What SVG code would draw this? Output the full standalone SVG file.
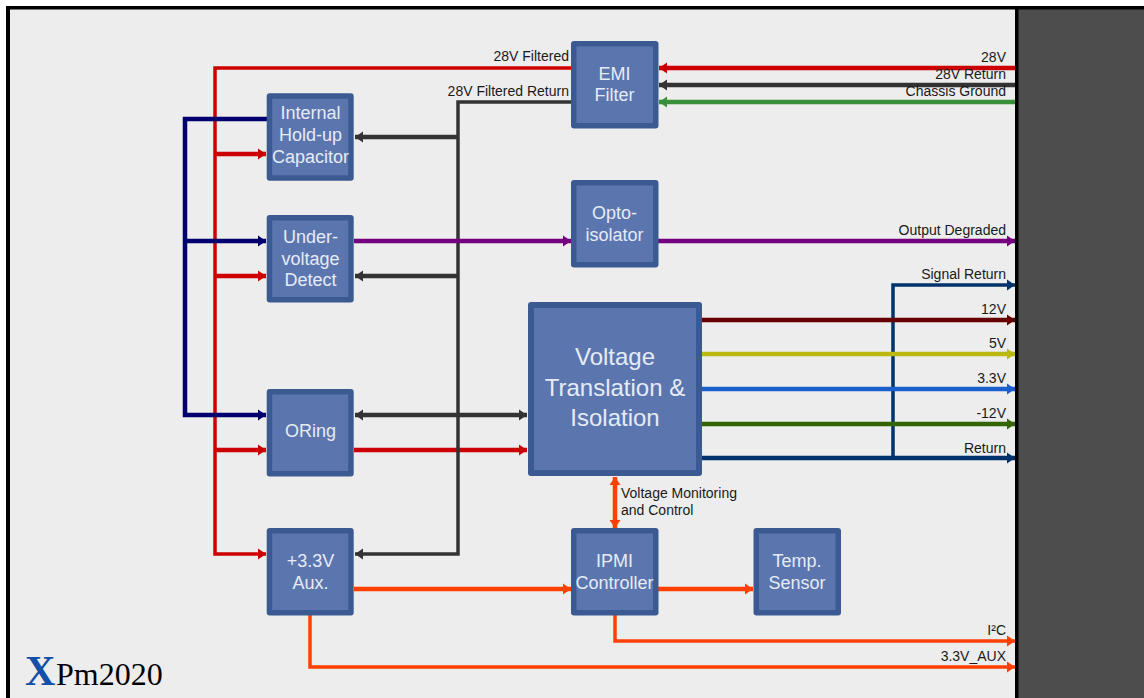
<svg xmlns="http://www.w3.org/2000/svg" width="1144" height="698" viewBox="0 0 1144 698">
<style>
.n rect.o{fill:#3c5a92;stroke:none}
.n rect.i{fill:#5b76af;stroke:none}
.n text{font-family:"Liberation Sans",Arial,sans-serif;font-size:18px;fill:#e6ebf5;text-anchor:middle}
.l{font-family:"Liberation Sans",Arial,sans-serif;font-size:14px;fill:#1a1a1a;text-anchor:end}
.c path{fill:none;stroke-linejoin:miter}
.red{stroke:#cc0000}.blk{stroke:#333333}.grn{stroke:#3a8f3a}.nav{stroke:#000070}.pur{stroke:#740080}.org{stroke:#ff4000}.dbl{stroke:#00336b}
.mar{stroke:#660000}.yel{stroke:#bcb812}.blu{stroke:#1a5fcc}.olv{stroke:#336600}
.t3{stroke-width:3.500px}.t4{stroke-width:4.500px}
</style>
<defs>
<marker id="ared" markerUnits="userSpaceOnUse" markerWidth="10" markerHeight="12" refX="8" refY="6" orient="auto-start-reverse"><path d="M0 0.500L8 6L0 11.500Z" fill="#cc0000"/></marker>
<marker id="ablk" markerUnits="userSpaceOnUse" markerWidth="10" markerHeight="12" refX="8" refY="6" orient="auto-start-reverse"><path d="M0 0.500L8 6L0 11.500Z" fill="#333333"/></marker>
<marker id="agrn" markerUnits="userSpaceOnUse" markerWidth="10" markerHeight="12" refX="8" refY="6" orient="auto-start-reverse"><path d="M0 0.500L8 6L0 11.500Z" fill="#3a8f3a"/></marker>
<marker id="anav" markerUnits="userSpaceOnUse" markerWidth="10" markerHeight="12" refX="8" refY="6" orient="auto-start-reverse"><path d="M0 0.500L8 6L0 11.500Z" fill="#000070"/></marker>
<marker id="apur" markerUnits="userSpaceOnUse" markerWidth="10" markerHeight="12" refX="8" refY="6" orient="auto-start-reverse"><path d="M0 0.500L8 6L0 11.500Z" fill="#740080"/></marker>
<marker id="aorg" markerUnits="userSpaceOnUse" markerWidth="10" markerHeight="12" refX="8" refY="6" orient="auto-start-reverse"><path d="M0 0.500L8 6L0 11.500Z" fill="#ff4000"/></marker>
<marker id="adbl" markerUnits="userSpaceOnUse" markerWidth="10" markerHeight="12" refX="8" refY="6" orient="auto-start-reverse"><path d="M0 0.500L8 6L0 11.500Z" fill="#00336b"/></marker>
<marker id="amar" markerUnits="userSpaceOnUse" markerWidth="10" markerHeight="12" refX="8" refY="6" orient="auto-start-reverse"><path d="M0 0.500L8 6L0 11.500Z" fill="#660000"/></marker>
<marker id="ayel" markerUnits="userSpaceOnUse" markerWidth="10" markerHeight="12" refX="8" refY="6" orient="auto-start-reverse"><path d="M0 0.500L8 6L0 11.500Z" fill="#bcb812"/></marker>
<marker id="ablu" markerUnits="userSpaceOnUse" markerWidth="10" markerHeight="12" refX="8" refY="6" orient="auto-start-reverse"><path d="M0 0.500L8 6L0 11.500Z" fill="#1a5fcc"/></marker>
<marker id="aolv" markerUnits="userSpaceOnUse" markerWidth="10" markerHeight="12" refX="8" refY="6" orient="auto-start-reverse"><path d="M0 0.500L8 6L0 11.500Z" fill="#336600"/></marker>
</defs>
<rect width="1144" height="698" fill="#ffffff"/>
<rect x="8" y="8" width="1008" height="690" fill="#ededed"/>
<rect x="1016" y="8" width="128" height="690" fill="#4d4d4d"/>
<rect x="6" y="6" width="1138" height="3.500" fill="#000000"/>
<rect x="6" y="6" width="4" height="692" fill="#000000"/>
<rect x="1015" y="6" width="3.500" height="692" fill="#000000"/>

<g id="connectors" class="c">
<path class="red t3" d="M572 68H215V554H266" marker-end="url(#ared)"/>
<path class="red t4" d="M215 154H266" marker-end="url(#ared)"/>
<path class="red t4" d="M215 276H266" marker-end="url(#ared)"/>
<path class="red t4" d="M215 450H266" marker-end="url(#ared)"/>
<path class="red t4" d="M354 450H527" marker-end="url(#ared)"/>
<path class="nav t4" d="M267 119H185V415H266" marker-end="url(#anav)"/>
<path class="nav t4" d="M185 241H266" marker-end="url(#anav)"/>
<path class="blk t3" d="M572 102H458V554H355" marker-end="url(#ablk)"/>
<path class="blk t4" d="M458 137H355" marker-end="url(#ablk)"/>
<path class="blk t4" d="M458 276H355" marker-end="url(#ablk)"/>
<path class="blk t4" d="M355 415H527" marker-start="url(#ablk)" marker-end="url(#ablk)"/>
<path class="red t4" d="M1015 68H659" marker-end="url(#ared)"/>
<path class="blk t4" d="M1015 85H659" marker-end="url(#ablk)"/>
<path class="grn t4" d="M1015 102H659" marker-end="url(#agrn)"/>
<path class="pur t4" d="M354 241H571" marker-end="url(#apur)"/>
<path class="pur t4" d="M658 241H1015" marker-end="url(#apur)"/>
<path class="dbl t3" d="M893 459V285H1015" marker-end="url(#adbl)"/>
<path class="mar t4" d="M701 320H1015" marker-end="url(#amar)"/>
<path class="yel t4" d="M701 354H1015" marker-end="url(#ayel)"/>
<path class="blu t4" d="M701 389H1015" marker-end="url(#ablu)"/>
<path class="olv t4" d="M701 424H1015" marker-end="url(#aolv)"/>
<path class="dbl t4" d="M701 458H1015" marker-end="url(#adbl)"/>
<path class="org t4" d="M615 477V528" marker-start="url(#aorg)" marker-end="url(#aorg)"/>
<path class="org t4" d="M354 589H571" marker-end="url(#aorg)"/>
<path class="org t4" d="M658 589H753" marker-end="url(#aorg)"/>
<path class="org t3" d="M615 615V641H1015" marker-end="url(#aorg)"/>
<path class="org t3" d="M310 615V667H1015" marker-end="url(#aorg)"/>
</g>

<g id="emi" class="n"><rect class="o" x="571" y="41" width="87.500" height="87.500" rx="3"/><rect class="i" x="576.500" y="46.500" width="76.500" height="76.500"/><text x="614.500" y="80">EMI</text><text x="614.500" y="101">Filter</text></g>
<g id="holdup" class="n"><rect class="o" x="266.700" y="93.300" width="87" height="87.500" rx="3"/><rect class="i" x="272.200" y="98.800" width="76" height="76.500"/><text x="310.500" y="119">Internal</text><text x="310.500" y="141">Hold-up</text><text x="310.500" y="163">Capacitor</text></g>
<g id="opto" class="n"><rect class="o" x="571" y="180" width="87.500" height="87.500" rx="3"/><rect class="i" x="576.500" y="185.500" width="76.500" height="76.500"/><text x="614.500" y="219">Opto-</text><text x="614.500" y="241">isolator</text></g>
<g id="uvd" class="n"><rect class="o" x="266.700" y="215" width="87" height="87.500" rx="3"/><rect class="i" x="272.200" y="220.500" width="76" height="76.500"/><text x="310.500" y="243">Under-</text><text x="310.500" y="265">voltage</text><text x="310.500" y="286">Detect</text></g>
<g id="vti" class="n"><rect class="o" x="528" y="302" width="174" height="174" rx="3"/><rect class="i" x="534" y="308" width="162" height="162"/><text x="615" y="365" style="font-size:24px">Voltage</text><text x="615" y="396" style="font-size:24px">Translation &amp;</text><text x="615" y="426" style="font-size:24px">Isolation</text></g>
<g id="oring" class="n"><rect class="o" x="266.700" y="389" width="87" height="87.500" rx="3"/><rect class="i" x="272.200" y="394.500" width="76" height="76.500"/><text x="310.500" y="437">ORing</text></g>
<g id="aux" class="n"><rect class="o" x="266.700" y="528" width="87" height="87.500" rx="3"/><rect class="i" x="272.200" y="533.500" width="76" height="76.500"/><text x="310.500" y="567">+3.3V</text><text x="310.500" y="589">Aux.</text></g>
<g id="ipmi" class="n"><rect class="o" x="571" y="528" width="87.500" height="87.500" rx="3"/><rect class="i" x="576.500" y="533.500" width="76.500" height="76.500"/><text x="614.500" y="567">IPMI</text><text x="614.500" y="589">Controller</text></g>
<g id="temp" class="n"><rect class="o" x="753.500" y="528" width="87.500" height="87.500" rx="3"/><rect class="i" x="759" y="533.500" width="76.500" height="76.500"/><text x="797" y="567">Temp.</text><text x="797" y="589">Sensor</text></g>

<g id="labels">
<text class="l" x="569" y="61">28V Filtered</text>
<text class="l" x="569" y="96">28V Filtered Return</text>
<text class="l" x="1006" y="62">28V</text>
<text class="l" x="1006" y="79">28V Return</text>
<text class="l" x="1006" y="96">Chassis Ground</text>
<text class="l" x="1006" y="235">Output Degraded</text>
<text class="l" x="1006" y="279">Signal Return</text>
<text class="l" x="1006" y="314">12V</text>
<text class="l" x="1006" y="348">5V</text>
<text class="l" x="1006" y="383">3.3V</text>
<text class="l" x="1006" y="418">-12V</text>
<text class="l" x="1006" y="453">Return</text>
<text class="l" x="1006" y="635">I²C</text>
<text class="l" x="1006" y="661">3.3V_AUX</text>
<text class="l" x="621" y="498" style="text-anchor:start">Voltage Monitoring</text>
<text class="l" x="621" y="515" style="text-anchor:start">and Control</text>
<text x="25" y="685" style="font-family:'Liberation Serif','Times New Roman',serif;font-weight:bold;font-size:42px;fill:#1450a8">X</text>
<text x="56" y="685" style="font-family:'Liberation Serif','Times New Roman',serif;font-size:32px;fill:#000000">Pm2020</text>
</g>
</svg>
